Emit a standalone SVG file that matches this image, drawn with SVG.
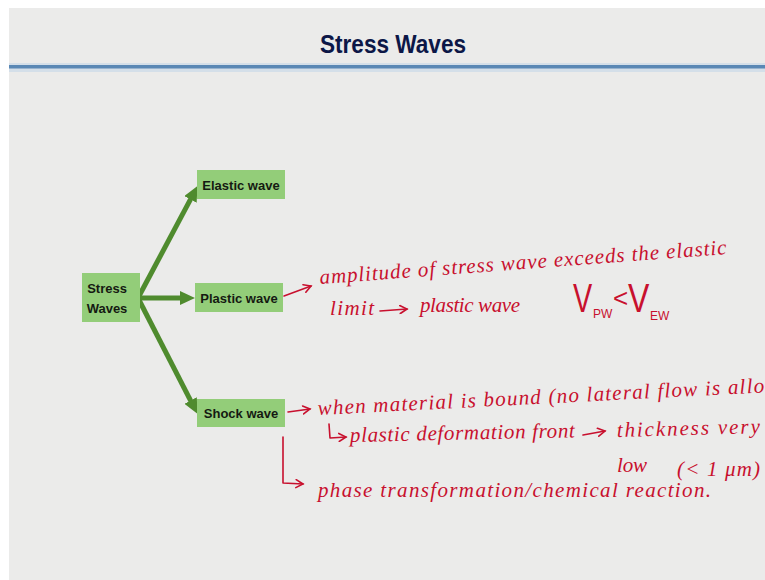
<svg xmlns="http://www.w3.org/2000/svg" width="765" height="580" viewBox="0 0 765 580">
  <defs>
    <marker id="greenHead" markerUnits="userSpaceOnUse" markerWidth="16" markerHeight="14" refX="2" refY="7" orient="auto">
      <path d="M0,0 L15,7 L0,14 Z" fill="#4f8b2e"/>
    </marker>
    <marker id="redHead" markerUnits="userSpaceOnUse" markerWidth="10" markerHeight="10" refX="8" refY="5" orient="auto">
      <path d="M1,1 L8,5 L1,9" fill="none" stroke="#c8102e" stroke-width="1.6" stroke-linecap="round"/>
    </marker>
  </defs>
  <style>
    .box { fill: #93cd79; }
    .lbl { font-family: "Liberation Sans", Arial, sans-serif; font-weight: bold; font-size: 13px; fill: #151a12; }
    .hand { font-family: "Liberation Serif", "DejaVu Serif", serif; font-style: italic; font-size: 21px; fill: #c8102e; }
    .sym { font-family: "Liberation Sans", Arial, sans-serif; fill: #c8102e; }
    .ink { fill: none; stroke: #c8102e; stroke-width: 1.6; stroke-linecap: round; stroke-linejoin: round; }
    .branch { fill: none; stroke: #4f8b2e; stroke-width: 5; }
  </style>

  <!-- slide background with white margins -->
  <rect x="0" y="0" width="765" height="580" fill="#ffffff"/>
  <rect x="9" y="8" width="756" height="572" fill="#ebebea"/>
  <rect x="9" y="63" width="756" height="9" fill="#d4dfe9"/>
  <rect x="9" y="65" width="756" height="3.5" fill="#5a88b5"/>

  <text x="393" y="53" text-anchor="middle" font-family="Liberation Sans, Arial, sans-serif" font-weight="bold" font-size="25" fill="#0c1747" textLength="146" lengthAdjust="spacingAndGlyphs">Stress Waves</text>

  <!-- connectors -->
  <g id="connectors">
    <path class="branch" d="M138,298 L191.4,197.6" marker-end="url(#greenHead)"/>
    <path class="branch" d="M138,298 L182,298" marker-end="url(#greenHead)"/>
    <path class="branch" d="M138,298 L191.5,402.3" marker-end="url(#greenHead)"/>
  </g>

  <!-- nodes -->
  <g id="stress-waves">
    <rect class="box" x="82" y="273" width="58" height="49"/>
    <text class="lbl" x="107" y="293" text-anchor="middle">Stress</text>
    <text class="lbl" x="107" y="313" text-anchor="middle">Waves</text>
  </g>
  <g id="elastic-wave">
    <rect class="box" x="197" y="170" width="88" height="29"/>
    <text class="lbl" x="241" y="189.5" text-anchor="middle">Elastic wave</text>
  </g>
  <g id="plastic-wave">
    <rect class="box" x="195" y="283" width="88" height="29"/>
    <text class="lbl" x="239" y="302.5" text-anchor="middle">Plastic wave</text>
  </g>
  <g id="shock-wave">
    <rect class="box" x="197" y="399" width="88" height="28"/>
    <text class="lbl" x="241" y="418" text-anchor="middle">Shock wave</text>
  </g>

  <!-- handwritten notes: plastic wave -->
  <g id="plastic-notes">
    <path class="ink" d="M284,296 L311,286" marker-end="url(#redHead)"/>
    <text class="hand" x="320" y="284" transform="rotate(-4.2 320 284)" textLength="408" lengthAdjust="spacing">amplitude of stress wave exceeds the elastic</text>
    <text class="hand" x="330" y="315" textLength="44" lengthAdjust="spacing">limit</text>
    <path class="ink" d="M380,311 L407,309" marker-end="url(#redHead)"/>
    <text class="hand" x="420" y="312" textLength="100" lengthAdjust="spacing">plastic wave</text>
    <!-- V_PW < V_EW -->
    <text class="sym" font-size="40" transform="translate(573 312) scale(0.72 1)">V</text>
    <text class="sym" font-size="12" x="593" y="318">PW</text>
    <text class="sym" font-size="26" x="613" y="307">&lt;</text>
    <text class="sym" font-size="40" transform="translate(628 312) scale(0.8 1)">V</text>
    <text class="sym" font-size="12" x="650" y="320">EW</text>
  </g>

  <!-- handwritten notes: shock wave -->
  <g id="shock-notes">
    <path class="ink" d="M288,412 L310,409" marker-end="url(#redHead)"/>
    <text class="hand" x="318" y="415" transform="rotate(-2.9 318 415)" textLength="447" lengthAdjust="spacing">when material is bound (no lateral flow is allo</text>
    <path class="ink" d="M329,424 L330,438 L346,437" marker-end="url(#redHead)"/>
    <text class="hand" x="350" y="442" transform="rotate(-1.2 350 442)" textLength="225" lengthAdjust="spacing">plastic deformation front</text>
    <path class="ink" d="M583,435 L605,431" marker-end="url(#redHead)"/>
    <text class="hand" x="617" y="437" transform="rotate(-1.5 617 437)" textLength="143" lengthAdjust="spacing">thickness very</text>
    <text class="hand" x="617" y="472" textLength="30" lengthAdjust="spacing">low</text>
    <text class="hand" x="677" y="476" font-size="24" textLength="83" lengthAdjust="spacing">(&lt; 1 μm)</text>
    <path class="ink" d="M283,437 L283,483 L303,484" marker-end="url(#redHead)"/>
    <text class="hand" x="318" y="497" textLength="393" lengthAdjust="spacing">phase transformation/chemical reaction.</text>
  </g>
</svg>
